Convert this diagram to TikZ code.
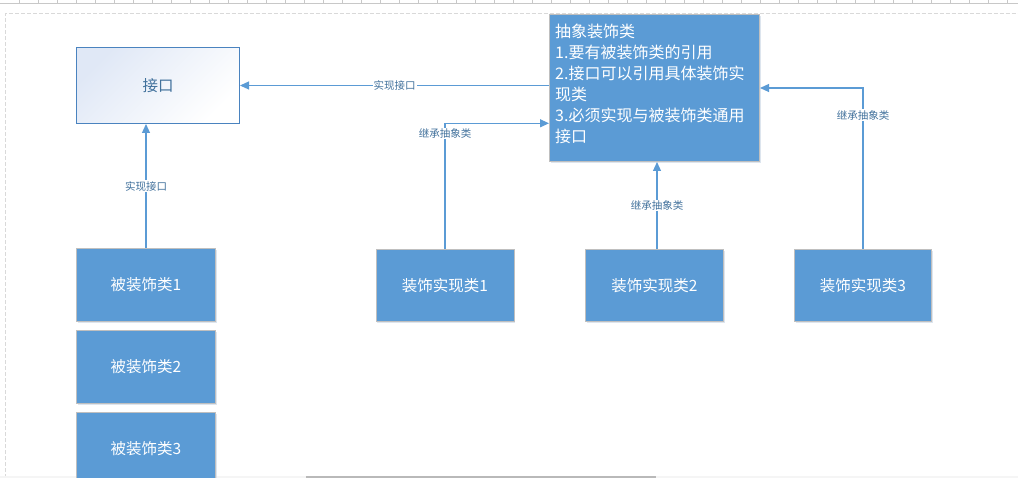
\documentclass[tikz,border=0pt]{standalone}
\usepackage{fontspec}
\setmainfont{Noto Sans CJK SC}
\usetikzlibrary{arrows.meta,shadows}
\definecolor{boxblue}{HTML}{5B9BD5}
\definecolor{boxedge}{HTML}{BFBFBF}
\definecolor{linkblue}{HTML}{5B9BD5}
\definecolor{txtblue}{HTML}{41719C}
\definecolor{ifedge}{HTML}{4A83BF}
\definecolor{iftop}{HTML}{E0E8F6}
\definecolor{shadowc}{HTML}{D5DEEA}
\definecolor{pagedash}{HTML}{D9D9D9}
\definecolor{rulerc}{HTML}{C8C8C8}
\begin{document}
\begin{tikzpicture}[x=1pt,y=-1pt,
  bluebox/.style={draw=boxedge, line width=1pt, fill=boxblue, text=white,
    minimum width=139pt, minimum height=73pt, inner sep=0pt, anchor=north west,
    font=\fontsize{15.5}{18}\selectfont,
    drop shadow={shadow xshift=1pt, shadow yshift=-2pt, fill=shadowc, opacity=0.8}},
  conn/.style={draw=linkblue, line width=1.2pt, -{Triangle[length=9pt,width=8pt]}},
  lbl/.style={fill=white, text=txtblue, font=\fontsize{10.5}{12}\selectfont, inner sep=1pt}]
\useasboundingbox (0,0) rectangle (1018,478);
\clip (0,0) rectangle (1018,478);
% ruler and page frame
\draw[rulerc, line width=0.8pt] (0,3.3) -- (1018,3.3);
\foreach \i in {1,...,53} \draw[rulerc, line width=0.8pt] ({19*\i},0) -- ({19*\i},3.3);
\draw[pagedash, line width=1pt, dash pattern=on 4pt off 2pt] (5.5,478) -- (5.5,14) -- (1018,14);
\fill[gray!8] (0,476.3) rectangle (1018,478);
\fill[gray!55] (306,476.3) rectangle (656,478);
% helper coordinates
\coordinate (h1) at (0,123.3);
\coordinate (h2) at (657,0);
\coordinate (h3) at (0,88);
% nodes
\node[draw=ifedge, line width=1pt, top color=iftop, middle color=white, bottom color=white, shading angle=45,
  minimum width=163pt, minimum height=76pt, inner sep=0pt, anchor=north west,
  text=txtblue, font=\fontsize{15.5}{18}\selectfont] (iface) at (76,47) {接口};
\node[draw=boxedge, line width=1pt, fill=boxblue, minimum width=210pt, minimum height=147pt,
  inner sep=0pt, anchor=north west,
  drop shadow={shadow xshift=1pt, shadow yshift=-2pt, fill=shadowc, opacity=0.8}] (abs) at (549,14) {};
\node[anchor=north west, inner sep=0pt, text=white, align=left, font=\fontsize{16}{21}\selectfont] (abstext) at (555,24)
  {抽象装饰类\\1.要有被装饰类的引用\\2.接口可以引用具体装饰实\\现类\\3.必须实现与被装饰类通用\\接口};
\node[bluebox] (d1) at (76,248) {被装饰类1};
\node[bluebox] (d2) at (76,330) {被装饰类2};
\node[bluebox] (d3) at (76,412) {被装饰类3};
\node[bluebox, minimum width=138pt, minimum height=72pt] (i1) at (375.5,249) {装饰实现类1};
\node[bluebox, minimum width=138pt, minimum height=72pt] (i2) at (585,249) {装饰实现类2};
\node[bluebox, minimum width=137pt, minimum height=72pt] (i3) at (794,249) {装饰实现类3};
% connectors
\draw[conn] (d1.north) -- node[lbl]{实现接口} (d1.north |- iface.south);
\draw[conn] (abs.west |- iface.east) -- node[lbl]{实现接口} (iface.east);
\draw[conn] (i1.north) |- node[lbl, pos=0.46]{继承抽象类} (abs.west |- h1);
\draw[conn] (i2.north -| h2) -- node[lbl]{继承抽象类} (abs.south -| h2);
\draw[conn] (i3.north) |- node[lbl, pos=0.416]{继承抽象类} (abs.east |- h3);
\end{tikzpicture}
\end{document}
